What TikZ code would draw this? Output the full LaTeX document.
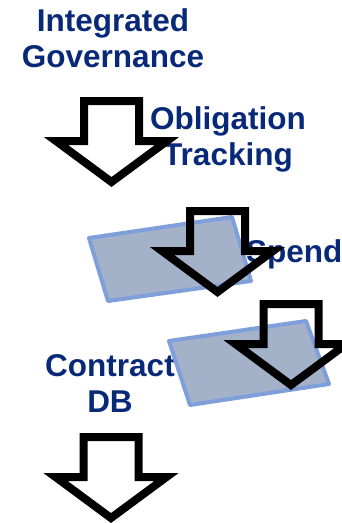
\documentclass[tikz,border=0pt]{standalone}
\usepackage{fontspec}
\setmainfont{Liberation Sans}
\definecolor{navy}{RGB}{8,40,120}
\definecolor{cardfill}{RGB}{163,178,201}
\definecolor{cardedge}{RGB}{127,159,218}
\begin{document}
\begin{tikzpicture}[x=1pt,y=-1pt,
  label text/.style={font=\bfseries\fontsize{31.5}{36}\selectfont, text=navy,
    align=center, inner sep=0pt, anchor=base},
  card/.style={fill=cardfill, draw=cardedge, line width=4pt, line join=round},
  arrowline/.style={draw=black, line width=8pt, line join=miter},
  hollow arrow/.pic={
    \draw[arrowline] (-27.5,4) -- (27.5,4) -- (27.5,44) -- (55.5,44)
      -- (0,85) -- (-55.5,44) -- (-27.5,44) -- cycle;
  }]
  \useasboundingbox (0,0) rectangle (341,523);

  % labels (anchored at the baseline of their last line)
  \node[label text] (gov) at (113,67) {Integrated\\Governance};
  \node[label text] (obl) at (228,165) {Obligation\\Tracking};
  \node[label text] (spend) at (246,262) [anchor=base west] {Spend};
  \node[label text] (contract) at (110,412) {Contract\\DB};

  % tilted cards
  \draw[card] (89,238) -- (232,217) -- (251,281) -- (108,301) -- cycle;
  \draw[card] (169,341) -- (306,321) -- (329,384) -- (190,405) -- cycle;

  % hollow down arrows
  \pic at (111.5,97) {hollow arrow};
  \pic at (217.5,207) {hollow arrow};
  \pic at (291,300) {hollow arrow};
  \pic at (111,433) {hollow arrow};
\end{tikzpicture}
\end{document}
